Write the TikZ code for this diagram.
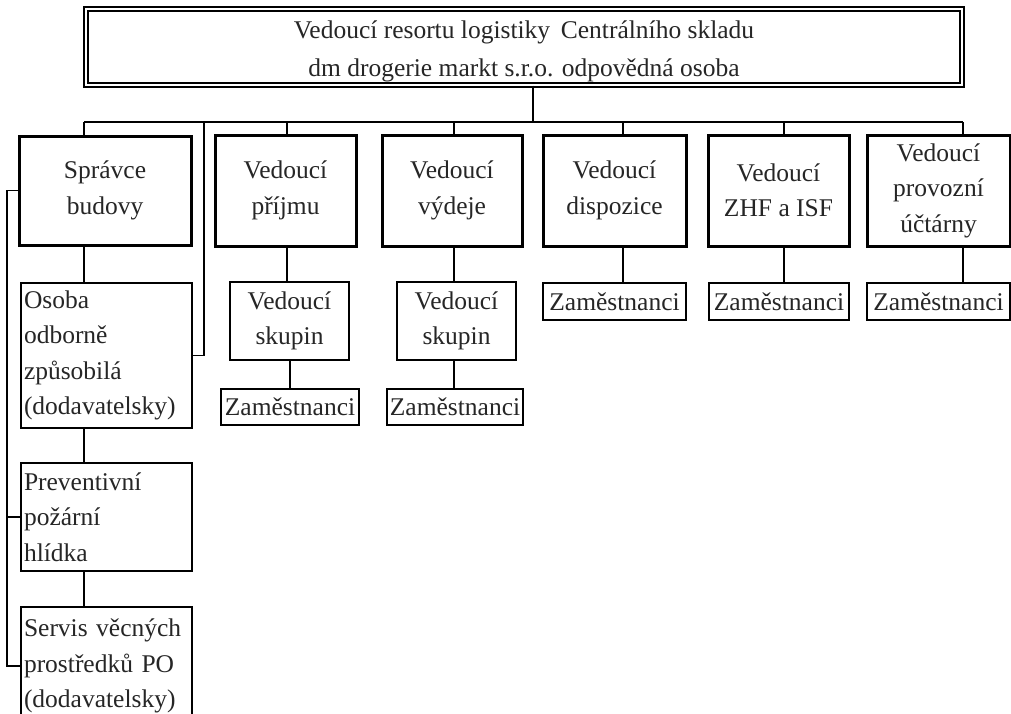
\documentclass[tikz,border=0pt]{standalone}
\usepackage{fontspec}
\setmainfont{Liberation Serif}
\begin{document}
\begin{tikzpicture}[x=1pt,y=-1pt,
  txt/.style={font=\fontsize{25.5}{35.5}\selectfont, text=black!85, inner sep=3pt},
  thickbox/.style={txt, draw, line width=3pt, align=center},
  thinbox/.style={txt, draw, line width=1.5pt, align=center},
  leftbox/.style={txt, draw, line width=1.5pt, align=left, text width=165pt},
  conn/.style={line width=1.3pt}]
\useasboundingbox (0,0) rectangle (1011,713);
\clip (0,0) rectangle (1011,713);
\fill[white] (0,0) rectangle (1011,713);

% top box
\node[draw, double, double distance=2.6pt, line width=1.3pt, minimum width=876pt, minimum height=76pt,
  font=\fontsize{25.5}{38}\selectfont, text=black!85, align=center] (top) at (524,47)
  {\rule{0pt}{26pt}Vedoucí resortu logistiky\, Centrálního skladu\\dm drogerie markt s.r.o. odpovědná osoba};

% second level
\node[thickbox, minimum width=172pt, minimum height=109pt] (spr) at (105,190.5) {Správce\\budovy};
\node[thickbox, minimum width=141pt, minimum height=111pt] (prij) at (285.5,190.5) {Vedoucí\\příjmu};
\node[thickbox, minimum width=140pt, minimum height=111pt] (vyd) at (452,190.5) {Vedoucí\\výdeje};
\node[thickbox, minimum width=143pt, minimum height=111pt] (disp) at (614.5,190.5) {Vedoucí\\dispozice};
\node[thickbox, minimum width=141pt, minimum height=111pt] (zhf) at (778.5,190.5) {Vedoucí\\ZHF a ISF};
\node[thickbox, minimum width=143pt, minimum height=111pt] (uct) at (938.5,190.5) {Vedoucí\\provozní\\účtárny};

% left column
\node[leftbox, minimum width=171pt, minimum height=145pt] (osoba) at (106.5,355.5)
  {Osoba\\odborně\\způsobilá\\(dodavatelsky)};
\node[leftbox, minimum width=171pt, minimum height=108pt] (prev) at (106.5,517)
  {Preventivní\\požární\\hlídka};
\node[leftbox, minimum width=171pt, minimum height=118pt] (serv) at (106.5,666)
  {Servis věcných\\prostředků PO\\(dodavatelsky)};

% third level
\node[thinbox, minimum width=119pt, minimum height=78pt] (skup1) at (289.5,321) {Vedoucí\\skupin};
\node[thinbox, minimum width=119pt, minimum height=78pt] (skup2) at (456.5,321) {Vedoucí\\skupin};
\node[thinbox, minimum width=138pt, minimum height=36pt] (zam1) at (290,407) {Zaměstnanci};
\node[thinbox, minimum width=136pt, minimum height=36pt] (zam2) at (455,407) {Zaměstnanci};
\node[thinbox, minimum width=143pt, minimum height=37pt] (zam3) at (614.5,301.5) {Zaměstnanci};
\node[thinbox, minimum width=140pt, minimum height=37pt] (zam4) at (779,301.5) {Zaměstnanci};
\node[thinbox, minimum width=143pt, minimum height=37pt] (zam5) at (938.5,301.5) {Zaměstnanci};

% coordinates
\coordinate (tx) at (533,86);
\coordinate (bL) at (84,122);
\coordinate (bO) at (204,122);
\coordinate (bP) at (287,122);
\coordinate (bV) at (454,122);
\coordinate (bD) at (623,122);
\coordinate (bZ) at (784,122);
\coordinate (bU) at (963,122);
\coordinate (lx) at (7,0);

% connectors
\draw[conn] (top.south -| tx) -- (bU -| tx);
\draw[conn] (bL) -- (bU);
\draw[conn] (bL) -- (bL |- spr.north);
\draw[conn] (bO) |- (osoba.east);
\draw[conn] (bP) -- (bP |- prij.north);
\draw[conn] (bV) -- (bV |- vyd.north);
\draw[conn] (bD) -- (bD |- disp.north);
\draw[conn] (bZ) -- (bZ |- zhf.north);
\draw[conn] (bU) -- (bU |- uct.north);

\draw[conn] (spr.south -| bL) -- (osoba.north -| bL);
\draw[conn] (osoba.south -| bL) -- (prev.north -| bL);
\draw[conn] (prev.south -| bL) -- (serv.north -| bL);
\draw[conn] (spr.west) -- (spr.west -| lx) -- (serv.west -| lx) -- (serv.west);
\draw[conn] (prev.west -| lx) -- (prev.west);

\draw[conn] (prij.south -| bP) -- (skup1.north -| bP);
\draw[conn] (skup1.south -| zam1.north) -- (zam1.north);
\draw[conn] (vyd.south -| bV) -- (skup2.north -| bV);
\draw[conn] (skup2.south -| bV) -- (zam2.north -| bV);
\draw[conn] (disp.south -| bD) -- (zam3.north -| bD);
\draw[conn] (zhf.south -| bZ) -- (zam4.north -| bZ);
\draw[conn] (uct.south -| bU) -- (zam5.north -| bU);
\end{tikzpicture}
\end{document}
